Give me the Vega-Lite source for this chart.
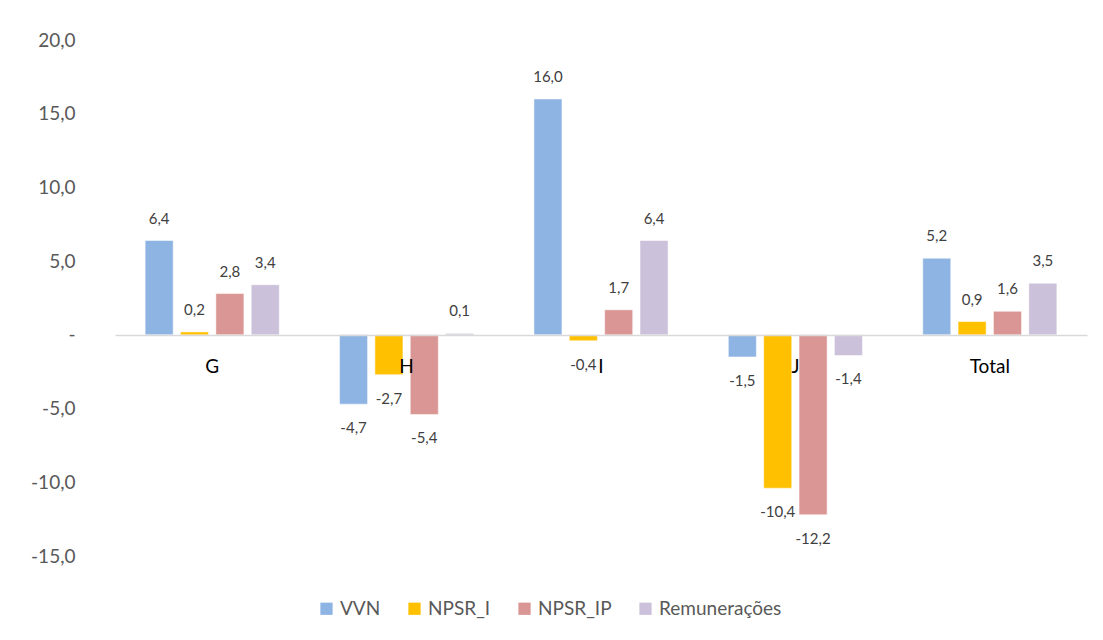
{
  "$schema": "https://vega.github.io/schema/vega-lite/v6.json",
  "width": 972,
  "height": 516,
  "autosize": "none",
  "padding": {"left": 115, "top": 40, "right": 16, "bottom": 84},
  "background": "white",
  "config": {
    "locale": {"number": {"decimal": ",", "thousands": ".", "grouping": [3], "currency": ["", " €"], "minus": "-"}},
    "view": {"stroke": null},
    "font": "Lato"
  },
  "data": {"values": [
    {"cat": "G", "serie": "VVN", "v": 6.4},
    {"cat": "G", "serie": "NPSR_I", "v": 0.2},
    {"cat": "G", "serie": "NPSR_IP", "v": 2.8},
    {"cat": "G", "serie": "Remunerações", "v": 3.4},
    {"cat": "H", "serie": "VVN", "v": -4.7},
    {"cat": "H", "serie": "NPSR_I", "v": -2.7},
    {"cat": "H", "serie": "NPSR_IP", "v": -5.4},
    {"cat": "H", "serie": "Remunerações", "v": 0.1},
    {"cat": "I", "serie": "VVN", "v": 16.0},
    {"cat": "I", "serie": "NPSR_I", "v": -0.4},
    {"cat": "I", "serie": "NPSR_IP", "v": 1.7},
    {"cat": "I", "serie": "Remunerações", "v": 6.4},
    {"cat": "J", "serie": "VVN", "v": -1.5},
    {"cat": "J", "serie": "NPSR_I", "v": -10.4},
    {"cat": "J", "serie": "NPSR_IP", "v": -12.2},
    {"cat": "J", "serie": "Remunerações", "v": -1.4},
    {"cat": "Total", "serie": "VVN", "v": 5.2},
    {"cat": "Total", "serie": "NPSR_I", "v": 0.9},
    {"cat": "Total", "serie": "NPSR_IP", "v": 1.6},
    {"cat": "Total", "serie": "Remunerações", "v": 3.5}
  ]},
  "encoding": {
    "x": {
      "field": "cat", "type": "nominal", "sort": ["G", "H", "I", "J", "Total"],
      "scale": {"paddingInner": 0.31, "paddingOuter": 0.155},
      "axis": {
        "title": null, "labelAngle": 0, "ticks": false, "offset": -221, "zindex": 1,
        "domainColor": "#D9D9D9", "domainWidth": 1.5,
        "labelFontSize": 19, "labelColor": "#000000", "labelPadding": 22, "labelFont": "Lato"
      }
    },
    "xOffset": {
      "field": "serie", "type": "nominal", "sort": ["VVN", "NPSR_I", "NPSR_IP", "Remunerações"],
      "scale": {"paddingInner": 0.207, "paddingOuter": 0}
    },
    "y": {
      "field": "v", "type": "quantitative",
      "scale": {"domain": [-15, 20], "nice": false, "zero": false},
      "axis": {
        "title": null, "grid": false, "domain": false, "ticks": false,
        "values": [-15, -10, -5, 0, 5, 10, 15, 20],
        "format": ".1f",
        "labelExpr": "datum.value == 0 ? '-' : datum.label",
        "labelFontSize": 19, "labelColor": "#595959", "labelPadding": 40, "labelFont": "Lato"
      }
    }
  },
  "layer": [
    {
      "mark": {"type": "bar", "stroke": "white", "strokeWidth": 0.5},
      "encoding": {
        "color": {
          "field": "serie", "type": "nominal",
          "sort": ["VVN", "NPSR_I", "NPSR_IP", "Remunerações"],
          "scale": {"domain": ["VVN", "NPSR_I", "NPSR_IP", "Remunerações"], "range": ["#8EB4E3", "#FFC000", "#DA9694", "#CCC1DA"]},
          "legend": {
            "title": null, "orient": "none", "direction": "horizontal", "columns": 4,
            "legendX": 202, "legendY": 559,
            "symbolType": "square", "symbolSize": 150, "symbolStrokeWidth": 0,
            "labelFontSize": 19, "labelColor": "#595959", "labelFont": "Lato",
            "labelOffset": 4, "columnPadding": 24
          }
        }
      }
    },
    {
      "transform": [{"filter": "datum.v >= 0"}],
      "mark": {"type": "text", "baseline": "middle", "dy": -22, "fontSize": 15, "color": "#404040", "font": "Lato"},
      "encoding": {"text": {"field": "v", "type": "quantitative", "format": ".1f"}}
    },
    {
      "transform": [{"filter": "datum.v < 0"}],
      "mark": {"type": "text", "baseline": "middle", "dy": 24, "fontSize": 15, "color": "#404040", "font": "Lato"},
      "encoding": {"text": {"field": "v", "type": "quantitative", "format": ".1f"}}
    }
  ]
}
